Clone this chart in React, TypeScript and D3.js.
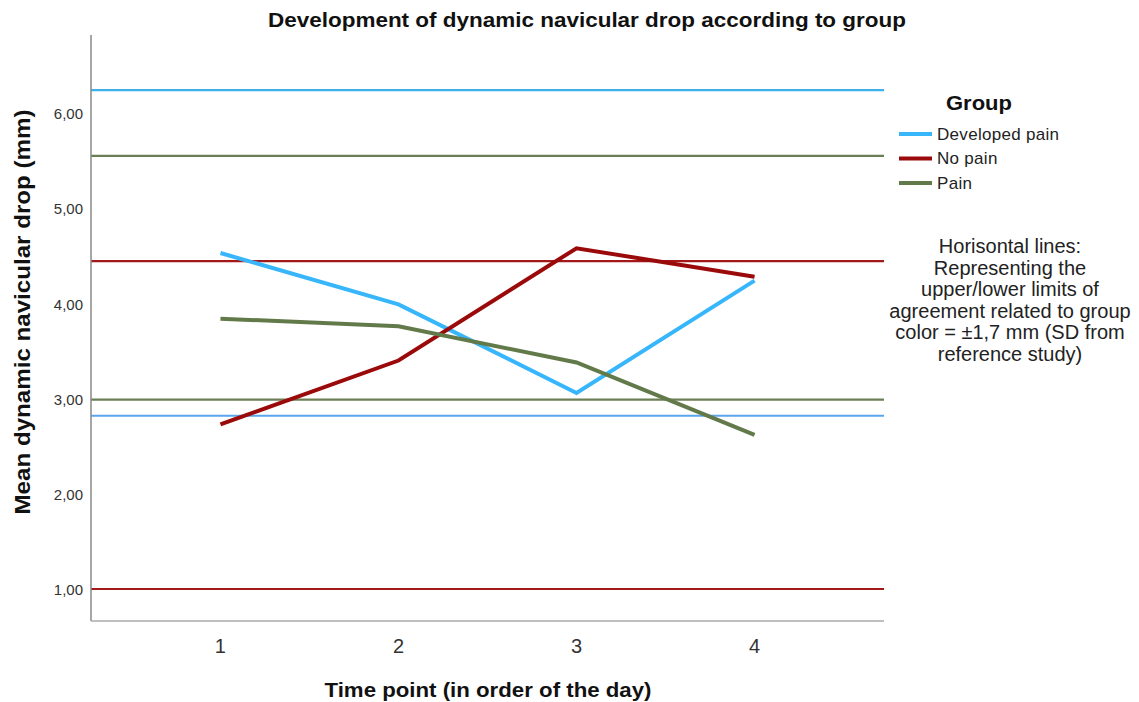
import React from "react";
import * as d3 from "d3";

const timePoints = ["1", "2", "3", "4"];
const groups = ["Developed pain", "No pain", "Pain"];
const developedPain = [4.54, 4.0, 3.07, 4.25];
const noPain = [2.74, 3.41, 4.59, 4.29];
const pain = [3.85, 3.77, 3.39, 2.63];
const yTicks = [1, 2, 3, 4, 5, 6];
// horizontal reference lines: [value, group index]
const refValues = [6.25, 2.83, 4.455, 1.01, 5.56, 3.0];

const colors = ["#38b6fc", "#9b0a0a", "#627a4a"];
const refColors = ["#3fb0ea", "#5aa6ee", "#a31818", "#a31818", "#6a7f55", "#6a7f55"];

const annotation = [
  "Horisontal lines:",
  "Representing the",
  "upper/lower limits of",
  "agreement related to group",
  "color = \u00b11,7 mm (SD from",
  "reference study)",
];

export default function App() {
  const W = 1139, H = 702;
  const left = 91, right = 884, top = 35, bottom = 621;
  const x = d3.scalePoint<string>().domain(timePoints).range([left, right]).padding(0.727);
  const y = d3.scaleLinear().domain([0.674, 6.83]).range([bottom, top]);
  const series = [developedPain, noPain, pain];
  const line = d3
    .line<number>()
    .x((_, i) => x(timePoints[i]) as number)
    .y((d) => y(d));
  const font = "Arial, 'Liberation Sans', sans-serif";
  const fmt = (v: number) => v.toFixed(2).replace(".", ",");

  return (
    <svg width={W} height={H} style={{ position: "absolute", left: 0, top: 0, background: "#fff" }} fontFamily={font}>
      <rect width={W} height={H} fill="#fff" />
      <text x={587} y={27} textAnchor="middle" fontSize={21} fontWeight="bold" fill="#111"
        textLength={638} lengthAdjust="spacingAndGlyphs">
        Development of dynamic navicular drop according to group
      </text>
      {refValues.map((v, i) => (
        <line key={"r" + i} x1={left} x2={right} y1={y(v)} y2={y(v)} stroke={refColors[i]} strokeWidth={2.2} />
      ))}
      {series.map((s, i) => (
        <path key={"s" + i} d={line(s) as string} fill="none" stroke={colors[i]} strokeWidth={4} strokeLinejoin="miter" />
      ))}
      <line x1={left} x2={left} y1={top} y2={bottom} stroke="#888" strokeWidth={1.5} />
      <line x1={left} x2={right} y1={bottom} y2={bottom} stroke="#aaa" strokeWidth={1.5} />
      {yTicks.map((t) => (
        <text key={"yt" + t} x={83} y={y(t)} dy="0.35em" textAnchor="end" fontSize={15} fill="#333">
          {fmt(t)}
        </text>
      ))}
      {timePoints.map((t) => (
        <text key={"xt" + t} x={x(t) as number} y={653} textAnchor="middle" fontSize={20} fill="#333">
          {t}
        </text>
      ))}
      <text x={488} y={697} textAnchor="middle" fontSize={21} fontWeight="bold" fill="#111"
        textLength={327} lengthAdjust="spacingAndGlyphs">
        Time point (in order of the day)
      </text>
      <text
        transform={`translate(30, 312) rotate(-90)`}
        textAnchor="middle"
        fontSize={22}
        fontWeight="bold"
        fill="#111"
        textLength={405}
        lengthAdjust="spacingAndGlyphs"
      >
        Mean dynamic navicular drop (mm)
      </text>
      <text x={946} y={110} fontSize={21} fontWeight="bold" fill="#111" textLength={66} lengthAdjust="spacingAndGlyphs">
        Group
      </text>
      {groups.map((g, i) => (
        <g key={"lg" + i} transform={`translate(0, ${134 + i * 24.5})`}>
          <line x1={899} x2={932} y1={0} y2={0} stroke={colors[i]} strokeWidth={4} />
          <text x={937} y={0} dy="0.35em" fontSize={17} fill="#222" letterSpacing={0.3}>
            {g}
          </text>
        </g>
      ))}
      {annotation.map((a, i) => (
        <text key={"an" + i} x={1010} y={253 + i * 21.6} textAnchor="middle" fontSize={20} fill="#222">
          {a}
        </text>
      ))}
    </svg>
  );
}
